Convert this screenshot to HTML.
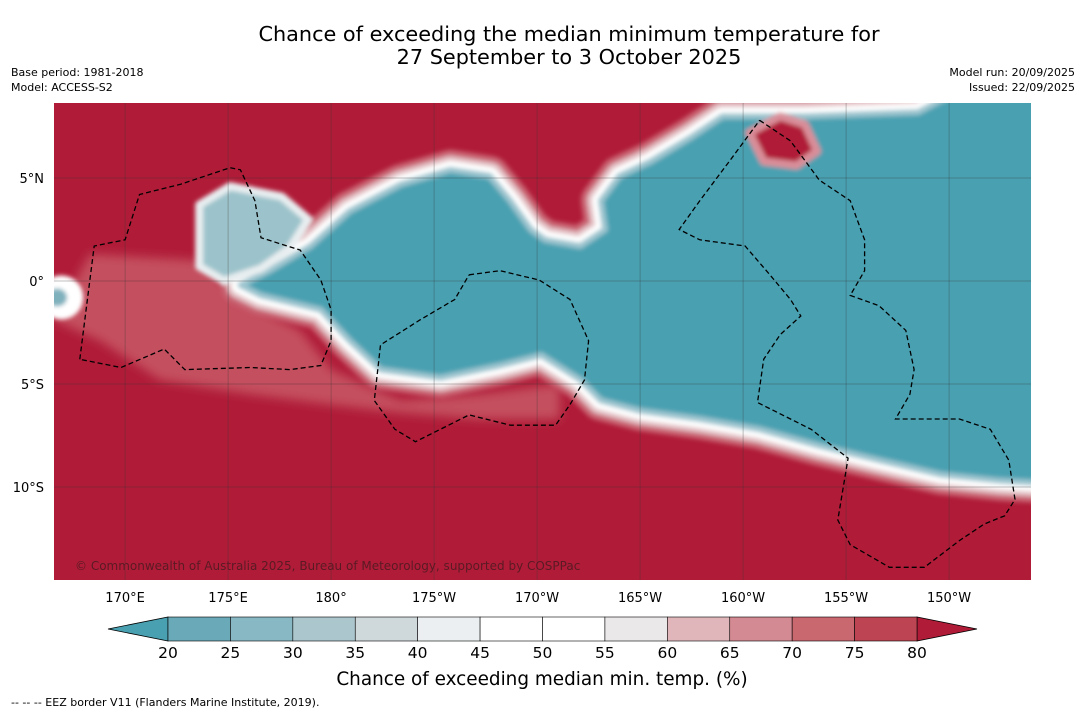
<!DOCTYPE html>
<html><head><meta charset="utf-8"><style>
body{margin:0;background:#fff;font-family:"Liberation Sans","DejaVu Sans",sans-serif}
</style></head><body>
<svg width="1085" height="713" xmlns="http://www.w3.org/2000/svg" font-family="DejaVu Sans, Liberation Sans, sans-serif">
<defs>
<clipPath id="mc"><rect x="54" y="103" width="977" height="477"/></clipPath>
<filter id="bl" x="-10%" y="-10%" width="120%" height="120%"><feGaussianBlur stdDeviation="5"/></filter>
<filter id="bl2"><feGaussianBlur stdDeviation="2"/></filter>
</defs>
<text x="569" y="41" font-size="20.8" text-anchor="middle">Chance of exceeding the median minimum temperature for</text>
<text x="569" y="64" font-size="20.8" text-anchor="middle">27 September to 3 October 2025</text>
<text x="11" y="76" font-size="11">Base period: 1981-2018</text>
<text x="11" y="91" font-size="11">Model: ACCESS-S2</text>
<text x="1075" y="76" font-size="11" text-anchor="end">Model run: 20/09/2025</text>
<text x="1075" y="91" font-size="11" text-anchor="end">Issued: 22/09/2025</text>
<g id="map" clip-path="url(#mc)"></g>
<g id="axes"></g>
<g id="cbar"></g>
<text x="542" y="685" font-size="18.4" text-anchor="middle">Chance of exceeding median min. temp. (%)</text>
<text x="11" y="706" font-size="11">-- -- -- EEZ border V11 (Flanders Marine Institute, 2019).</text>
</svg>
<script>
const NS="http://www.w3.org/2000/svg";
const lonTicks=[170,175,180,185,190,195,200,205,210];
const lonLabels=["170°E","175°E","180°","175°W","170°W","165°W","160°W","155°W","150°W"];
const latTicks=[5,0,-5,-10];
const latLabels=["5°N","0°","5°S","10°S"];
const cbLevels=[20,25,30,35,40,45,50,55,60,65,70,75,80];
const cbColors=["#6aa9b7","#88b8c3","#abc6cc","#cfd8da","#ebeff1","#ffffff","#ffffff","#ebe8e9","#e0b6bb","#d48a92","#c9686f","#bd4452"];
const teal=[[216,9.5],[211,9.5],[208.5,8.2],[203,8.0],[199,8.0],[197.5,7.0],[195.5,5.8],[194.0,5.1],[193.1,3.9],[193.3,2.5],[192.1,1.7],[190.4,2.0],[189.7,2.5],[188.7,3.9],[187.7,5.1],[185.8,5.4],[183.4,4.7],[180.9,3.4],[179.0,1.7],[177.0,0.5],[175.6,-0.2],[176.6,-0.7],[179.5,-1.4],[180.9,-2.9],[182.4,-4.3],[185.3,-4.7],[188.2,-4.1],[190.2,-3.6],[192.1,-4.8],[193.1,-5.8],[195.0,-6.3],[197.9,-6.7],[200.8,-7.2],[203.7,-8.0],[206.6,-8.7],[209.6,-9.4],[212.5,-9.7],[216,-9.9]];
const lightBlob=[[173.6,3.7],[175.1,4.6],[177.6,4.1],[178.9,3.0],[178.0,1.6],[176.6,0.6],[174.8,0.0],[173.6,0.7]];
const redIsland=[[200.3,7.2],[201.8,8.0],[203.0,7.6],[203.6,6.3],[202.6,5.6],[201.0,5.8]];
const pinkArea=[[168.3,1.3],[173.6,1.0],[175.6,-0.9],[178.5,-2.4],[180.0,-4.3],[183.4,-5.8],[187.2,-5.5],[191.1,-5.0],[191.1,-6.7],[187.2,-6.7],[183.4,-6.4],[180.0,-6.0],[176.1,-5.5],[171.7,-4.8],[168.8,-2.9],[166.55,-1.9]];
const eez1=[[167.8,-3.8],[168.5,1.7],[170.0,2.0],[170.7,4.2],[172.7,4.7],[175.1,5.5],[175.6,5.4],[176.3,3.9],[176.6,2.1],[178.5,1.5],[179.5,0.05],[180.0,-1.4],[180.0,-2.9],[179.5,-4.1],[178.0,-4.3],[176.1,-4.2],[172.9,-4.3],[171.9,-3.3],[171.2,-3.6],[169.8,-4.2],[167.8,-3.8]];
const eez2=[[186.7,0.3],[188.2,0.5],[190.1,0.05],[191.6,-0.9],[192.5,-2.9],[192.3,-4.8],[191.6,-6.0],[190.9,-7.0],[188.7,-7.0],[186.7,-6.5],[184.1,-7.8],[183.1,-7.2],[182.1,-5.8],[182.4,-3.1],[184.3,-1.9],[186.0,-0.9],[186.7,0.3]];
const eez3=[[200.8,7.8],[202.3,6.8],[203.7,4.9],[205.2,3.9],[205.9,2.0],[205.9,0.5],[205.2,-0.7],[206.6,-1.2],[207.9,-2.4],[208.3,-4.3],[208.1,-5.5],[207.4,-6.7],[208.6,-6.7],[210.5,-6.7],[212.0,-7.2],[212.9,-8.7],[213.2,-10.6],[212.7,-11.4],[211.7,-11.8],[210.5,-12.6],[208.8,-13.9],[207.1,-13.9],[205.2,-12.8],[204.6,-11.6],[205.1,-8.6],[203.3,-7.2],[200.7,-5.9],[201.0,-3.8],[201.8,-2.6],[202.8,-1.7],[202.3,-0.9],[201.3,0.3],[200.1,1.7],[197.9,2.0],[196.9,2.5],[197.9,3.9],[199.4,5.9],[200.8,7.8]];
const X=lon=>54+(lon-166.55)*20.6;
const Y=lat=>281-lat*20.6;
const pts=a=>a.map(p=>X(p[0]).toFixed(1)+","+Y(p[1]).toFixed(1)).join(" ");
function mk(parent,tag,attrs){const e=document.createElementNS(NS,tag);for(const k in attrs)e.setAttribute(k,attrs[k]);parent.appendChild(e);return e;}
const map=document.getElementById('map');
let e;
e=mk(map,'rect',{x:54,y:103,width:977,height:477,fill:'#b01c38'});


e=mk(map,'polygon',{points:pts(pinkArea),fill:'#c4505f',filter:'url(#bl)'});


const tg=mk(map,'g',{filter:'url(#bl2)'});


mk(tg,'polygon',{points:pts(teal),fill:'none',stroke:'#c96472','stroke-width':40,'stroke-linejoin':'round'});
mk(tg,'polygon',{points:pts(teal),fill:'none',stroke:'#e3c0c4','stroke-width':28,'stroke-linejoin':'round'});
mk(tg,'polygon',{points:pts(teal),fill:'none',stroke:'#ffffff','stroke-width':18,'stroke-linejoin':'round'});
mk(tg,'polygon',{points:pts(teal),fill:'#48a0b1',stroke:'#9cc5cf','stroke-width':6,'stroke-linejoin':'round'});
mk(tg,'polygon',{points:pts(lightBlob),fill:'#9cc3cb',stroke:'#e8eef0','stroke-width':8,'stroke-linejoin':'round'});
mk(tg,'polygon',{points:pts(redIsland),fill:'#b01c38',stroke:'#d98e99','stroke-width':8,'stroke-linejoin':'round'});
mk(tg,'ellipse',{cx:X(166.9),cy:Y(-0.8),rx:22,ry:22,fill:'#ffffff'});
mk(tg,'ellipse',{cx:X(166.7),cy:Y(-0.8),rx:10,ry:9,fill:'#7fb1bd'});
const gg=mk(map,'g',{});


lonTicks.forEach(l=>mk(gg,'line',{x1:X(l),x2:X(l),y1:103,y2:580,stroke:'#333',"stroke-width":0.5,opacity:0.6}));
latTicks.forEach(l=>mk(gg,'line',{x1:54,x2:1031,y1:Y(l),y2:Y(l),stroke:'#333',"stroke-width":0.5,opacity:0.6}));
[eez1,eez2,eez3].forEach((a,i)=>{e=mk(map,'polyline',{points:pts(a),fill:'none',stroke:'#000','stroke-width':1.3,'stroke-dasharray':'5,3'});

});
e=mk(map,'text',{x:75,y:570,'font-size':12,fill:'#5a1a24'});
e.textContent='© Commonwealth of Australia 2025, Bureau of Meteorology, supported by COSPPac';


const ax=document.getElementById('axes');
lonTicks.forEach((l,i)=>{e=mk(ax,'text',{x:X(l),y:602,'font-size':13,'text-anchor':'middle'});e.textContent=lonLabels[i];

});
latTicks.forEach((l,i)=>{e=mk(ax,'text',{x:44,y:Y(l)+5,'font-size':13,'text-anchor':'end'});e.textContent=latLabels[i];

});
const cb=document.getElementById('cbar');
const cx0=168,cx1=917,cy=617,ch=24,cw=(cx1-cx0)/(cbLevels.length-1);
e=mk(cb,'polygon',{points:`${cx0},${cy} ${cx0},${cy+ch} 108,${cy+ch/2}`,fill:'#48a0b1',stroke:'#000','stroke-width':0.8});


e=mk(cb,'polygon',{points:`${cx1},${cy} ${cx1},${cy+ch} 977,${cy+ch/2}`,fill:'#b01c38',stroke:'#000','stroke-width':0.8});


cbColors.forEach((c,i)=>{e=mk(cb,'rect',{x:cx0+i*cw,y:cy,width:cw,height:ch,fill:c,stroke:'#000','stroke-width':0.6});

});
cbLevels.forEach((v,i)=>{e=mk(cb,'text',{x:cx0+i*cw,y:658,'font-size':15.5,'text-anchor':'middle'});e.textContent=v;

});
</script>
</body></html>
